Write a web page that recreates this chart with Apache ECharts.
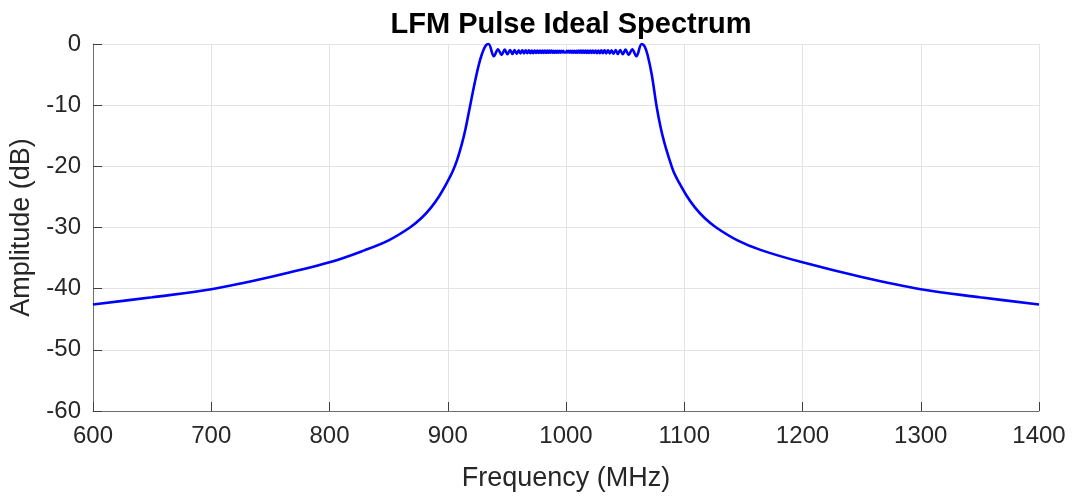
<!DOCTYPE html>
<html>
<head>
<meta charset="utf-8">
<script src="https://cdn.jsdelivr.net/npm/echarts@6/dist/echarts.min.js"></script>
<style>
  html, body { margin: 0; padding: 0; background: #ffffff; }
  #chart { width: 1073px; height: 496px; }
</style>
</head>
<body>
<div id="chart"></div>
<script>
// Frequency samples (MHz) of the LFM pulse spectrum
const freqMHz = [
  600, 650, 700, 750, 800, 830, 850, 868, 878, 886, 893, 899, 904, 908, 912, 915, 918, 922, 926, 929, 932,
  934.5, 939, 942.5, 945.5, 948.2, 950.5, 952.7, 954.7, 956.5, 958.3, 960, 961.5, 963, 964.5, 965.9,
  967.3, 968.6, 969.9, 971.1, 972.3, 973.5, 974.7, 975.8, 976.9, 978, 979.1, 980.1, 981.1, 982.1,
  983.1, 984.1, 985, 985.9, 986.8, 987.7, 988.6, 989.5, 990.4, 991.3, 992.2, 993, 993.8, 994.6,
  995.4, 996.2, 997, 997.8, 998.6,
  999.9, 1000.7, 1001.5, 1002.3, 1003.1, 1003.9, 1004.7, 1005.5, 1006.3, 1007.2, 1008.1, 1009,
  1009.9, 1010.8, 1011.7, 1012.6, 1013.5, 1014.4, 1015.4, 1016.4, 1017.4, 1018.4, 1019.4, 1020.5,
  1021.6, 1022.7, 1023.8, 1025, 1026.2, 1027.4, 1028.6, 1029.9, 1031.2, 1032.6, 1034, 1035.5, 1037,
  1038.5, 1040.2, 1042, 1043.8, 1045.8, 1048, 1050.3, 1053, 1056, 1059.5, 1064,
  1066.5, 1069, 1072.5, 1076.7, 1080, 1083, 1087, 1091, 1096, 1102, 1109, 1117, 1127, 1145,
  1165, 1200, 1250, 1300, 1350, 1400
];

// Amplitude (dB) at each frequency sample
const amplitudeDb = [
  -42.6, -41.4, -40.1, -38.1, -35.7, -33.7, -32.1, -30.0, -28.4, -26.7, -24.8, -22.8, -20.9, -18.9,
  -16.3, -13.9, -11.0, -7.1, -3.6, -1.6, -0.3,
  0, -2.0, -0.85, -1.78, -0.92, -1.68, -0.97, -1.62, -1.0, -1.58, -1.02, -1.55, -1.03, -1.53, -1.04,
  -1.51, -1.05, -1.5, -1.06, -1.49, -1.06, -1.48, -1.07, -1.47, -1.07, -1.46, -1.08, -1.45, -1.08,
  -1.44, -1.09, -1.44, -1.09, -1.43, -1.09, -1.43, -1.1, -1.42, -1.1, -1.42, -1.1, -1.41, -1.11,
  -1.41, -1.11, -1.4, -1.11, -1.4,
  -1.4, -1.11, -1.4, -1.11, -1.41, -1.11, -1.41, -1.1, -1.42, -1.1, -1.42, -1.1,
  -1.43, -1.09, -1.43, -1.09, -1.44, -1.09, -1.44, -1.08, -1.45, -1.08, -1.46, -1.07,
  -1.47, -1.07, -1.48, -1.06, -1.49, -1.06, -1.5, -1.05, -1.51, -1.04, -1.53, -1.03, -1.55,
  -1.02, -1.58, -1.0, -1.62, -0.97, -1.68, -0.92, -1.78, -0.85, -2.0, 0,
  -0.4, -1.8, -5.0, -10.3, -13.6, -16.0, -18.6, -20.9, -22.8, -24.8, -26.7, -28.4, -30.0, -32.1,
  -33.7, -35.7, -38.1, -40.1, -41.4, -42.6
];

// Axis ranges and tick steps
const xRange = [600, 1400];
const xStep = 100;
const yRange = [-60, 0];
const yStep = 10;

const titleText = 'LFM Pulse Ideal Spectrum';
const xLabel = 'Frequency (MHz)';
const yLabel = 'Amplitude (dB)';

const spectrum = freqMHz.map((f, i) => [f, amplitudeDb[i]]);

const FONT = '"Liberation Sans", Arial, Helvetica, sans-serif';
const chart = echarts.init(document.getElementById('chart'), null, { renderer: 'canvas' });

chart.setOption({
  animation: false,
  backgroundColor: '#ffffff',
  title: {
    text: titleText,
    left: 566,
    textAlign: 'center',
    top: 5,
    textStyle: { fontFamily: FONT, fontWeight: 'bold', fontSize: 29, color: '#000000' }
  },
  grid: { left: 93, right: 34, top: 44, bottom: 85, containLabel: false, outerBoundsMode: 'none' },
  xAxis: {
    type: 'value',
    min: xRange[0],
    max: xRange[1],
    interval: xStep,
    name: xLabel,
    nameLocation: 'middle',
    nameGap: 54,
    nameTextStyle: { fontFamily: FONT, fontSize: 27, color: '#262626' },
    axisLine: { show: true, onZero: false, lineStyle: { color: '#6e6e6e', width: 1 } },
    axisTick: { show: true, inside: true, length: 9, lineStyle: { color: '#404040', width: 1 } },
    axisLabel: { fontFamily: FONT, fontSize: 24, color: '#262626', margin: 13,
                 formatter: v => String(v) },
    splitLine: { show: true, lineStyle: { color: '#e3e3e3', width: 1 } }
  },
  yAxis: {
    type: 'value',
    min: yRange[0],
    max: yRange[1],
    interval: yStep,
    name: yLabel,
    nameLocation: 'middle',
    nameGap: 58,
    nameRotate: 90,
    nameTextStyle: { fontFamily: FONT, fontSize: 27, color: '#262626' },
    axisLine: { show: true, onZero: false, lineStyle: { color: '#6e6e6e', width: 1 } },
    axisTick: { show: true, inside: true, length: 9, lineStyle: { color: '#404040', width: 1 } },
    axisLabel: { fontFamily: FONT, fontSize: 24, color: '#262626', margin: 12 },
    splitLine: { show: true, lineStyle: { color: '#e3e3e3', width: 1 } }
  },
  series: [{
    type: 'line',
    data: spectrum,
    showSymbol: false,
    smooth: 0.35,
    clip: false,
    lineStyle: { color: '#0000ff', width: 2.6 }
  }]
});
</script>
</body>
</html>
